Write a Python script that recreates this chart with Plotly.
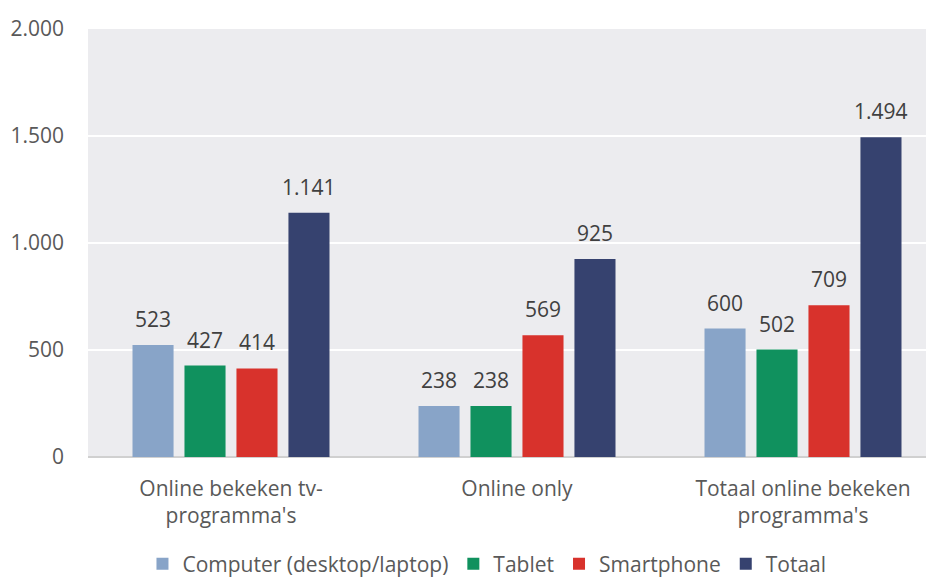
import plotly.graph_objects as go

categories = ["Online bekeken tv-<br>programma's", "Online only", "Totaal online bekeken<br>programma's"]
series_names = ["Computer (desktop/laptop)", "Tablet", "Smartphone", "Totaal"]
computer = [523, 238, 600]
tablet = [427, 238, 502]
smartphone = [414, 569, 709]
totaal = [1141, 925, 1494]
colors = ["#88A4C8", "#10915E", "#D8322C", "#36426F"]
y_ticks = [0, 500, 1000, 1500, 2000]

font_family = "Open Sans, Liberation Sans, sans-serif"
W, H = 938, 571
ML, MR, MT, MB = 80, 0, 21, 122
BARGAP, GROUPGAP = 0.273, 0.21

fig = go.Figure()
all_series = [computer, tablet, smartphone, totaal]
for name, vals, col in zip(series_names, all_series, colors):
    fig.add_trace(go.Bar(
        x=categories, y=vals, name=name, marker=dict(color=col, line=dict(width=0)),
    ))

# value labels, offset to sit over each bar of the group
cat_px = (W - ML - MR) / len(categories)
step = cat_px * (1 - BARGAP) / len(all_series)
for i, vals in enumerate(all_series):
    for cat, v in zip(categories, vals):
        fig.add_annotation(
            x=cat, y=v, text=f"{v:,}".replace(",", "."), showarrow=False,
            xshift=(i - (len(all_series) - 1) / 2) * step, yanchor="bottom", yshift=10,
            font=dict(size=21, color="#404040", family=font_family),
        )

fig.update_layout(
    width=W, height=H,
    margin=dict(l=ML, r=MR, t=MT, b=MB, autoexpand=False),
    paper_bgcolor="white", plot_bgcolor="#ECECEF",
    barmode="group", bargap=BARGAP, bargroupgap=GROUPGAP,
    separators=",.",
    font=dict(family=font_family, size=20, color="#595959"),
    showlegend=True,
    legend=dict(orientation="h", x=0.465, xanchor="center", y=-0.25, yanchor="middle",
                font=dict(size=21, color="#595959"), itemwidth=30, traceorder="normal"),
    xaxis=dict(showgrid=False, showline=False, ticks="", automargin=False,
               ticklabelstandoff=17, tickfont=dict(size=21, color="#595959")),
    yaxis=dict(range=[0, 2000], tickvals=y_ticks, tickformat=",", showgrid=True,
               gridcolor="white", gridwidth=2, zeroline=True, zerolinecolor="#D0D0D0",
               zerolinewidth=2, ticks="", ticklabelstandoff=23, automargin=False,
               tickfont=dict(size=21, color="#595959")),
)
fig.write_html("out.html")
